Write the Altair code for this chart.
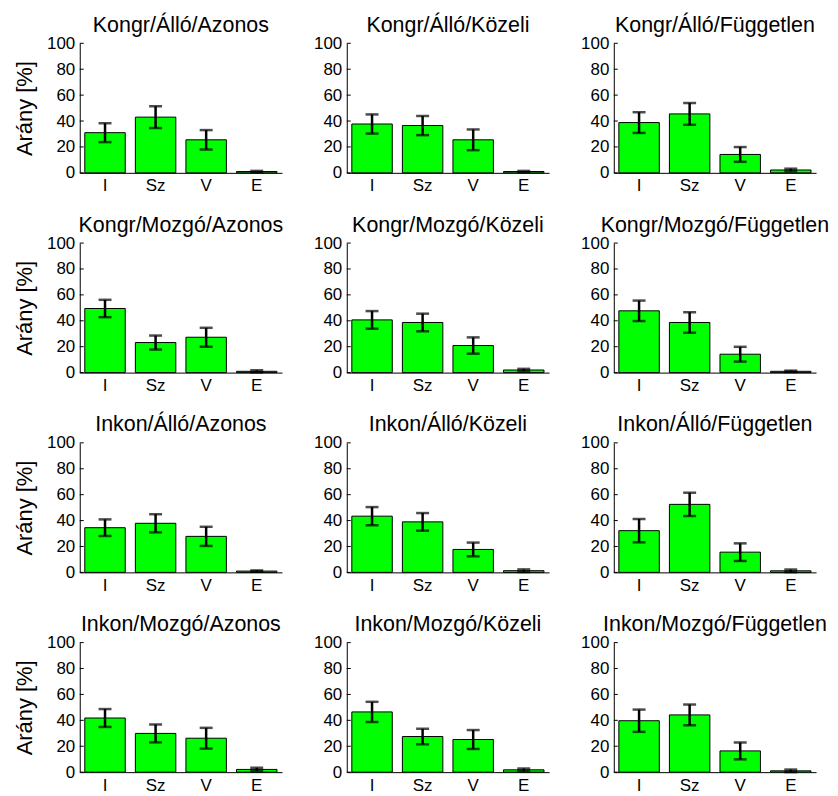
import altair as alt
import pandas as pd

categories = ["I", "Sz", "V", "E"]
titles = [
    "Kongr/Álló/Azonos", "Kongr/Álló/Közeli", "Kongr/Álló/Független",
    "Kongr/Mozgó/Azonos", "Kongr/Mozgó/Közeli", "Kongr/Mozgó/Független",
    "Inkon/Álló/Azonos", "Inkon/Álló/Közeli", "Inkon/Álló/Független",
    "Inkon/Mozgó/Azonos", "Inkon/Mozgó/Közeli", "Inkon/Mozgó/Független",
]

# mean proportions [%] per panel (I, Sz, V, E)
kongr_allo_azonos = [31.0, 43.0, 25.5, 1.0]
kongr_allo_kozeli = [37.7, 36.5, 25.5, 1.0]
kongr_allo_fuggetlen = [38.8, 45.5, 14.2, 2.2]
kongr_mozgo_azonos = [49.5, 23.2, 27.3, 1.0]
kongr_mozgo_kozeli = [40.7, 38.7, 20.9, 2.0]
kongr_mozgo_fuggetlen = [47.7, 38.7, 14.2, 1.0]
inkon_allo_azonos = [34.5, 37.9, 27.8, 1.0]
inkon_allo_kozeli = [43.4, 39.0, 17.7, 1.3]
inkon_allo_fuggetlen = [32.2, 52.5, 15.6, 1.2]
inkon_mozgo_azonos = [41.8, 29.9, 26.2, 2.1]
inkon_mozgo_kozeli = [46.5, 27.5, 25.2, 1.8]
inkon_mozgo_fuggetlen = [39.7, 44.2, 16.4, 1.0]

# error bar half-widths
err_kongr_allo_azonos = [7.3, 8.4, 7.5, 0.5]
err_kongr_allo_kozeli = [7.4, 7.4, 8.0, 0.5]
err_kongr_allo_fuggetlen = [8.0, 8.4, 5.7, 1.0]
err_kongr_mozgo_azonos = [6.7, 5.4, 7.3, 0.8]
err_kongr_mozgo_kozeli = [6.8, 6.8, 6.3, 0.9]
err_kongr_mozgo_fuggetlen = [7.9, 7.9, 5.7, 0.5]
err_inkon_allo_azonos = [6.4, 7.0, 7.4, 0.5]
err_inkon_allo_kozeli = [7.0, 6.8, 5.3, 1.0]
err_inkon_allo_fuggetlen = [9.0, 9.0, 6.8, 1.0]
err_inkon_mozgo_azonos = [6.9, 6.9, 8.0, 1.3]
err_inkon_mozgo_kozeli = [7.8, 6.0, 7.3, 1.0]
err_inkon_mozgo_fuggetlen = [8.6, 8.0, 6.5, 1.0]

y_ticks = [0, 20, 40, 60, 80, 100]

means = [kongr_allo_azonos, kongr_allo_kozeli, kongr_allo_fuggetlen,
         kongr_mozgo_azonos, kongr_mozgo_kozeli, kongr_mozgo_fuggetlen,
         inkon_allo_azonos, inkon_allo_kozeli, inkon_allo_fuggetlen,
         inkon_mozgo_azonos, inkon_mozgo_kozeli, inkon_mozgo_fuggetlen]
errs = [err_kongr_allo_azonos, err_kongr_allo_kozeli, err_kongr_allo_fuggetlen,
        err_kongr_mozgo_azonos, err_kongr_mozgo_kozeli, err_kongr_mozgo_fuggetlen,
        err_inkon_allo_azonos, err_inkon_allo_kozeli, err_inkon_allo_fuggetlen,
        err_inkon_mozgo_azonos, err_inkon_mozgo_kozeli, err_inkon_mozgo_fuggetlen]

FONT = "Liberation Sans"
W, H = 203, 130


def panel(i):
    df = pd.DataFrame({
        "cat": categories,
        "val": means[i],
        "lo": [m - e for m, e in zip(means[i], errs[i])],
        "hi": [m + e for m, e in zip(means[i], errs[i])],
    })
    ytitle = "Arány [%]" if i % 3 == 0 else ""
    xaxis = alt.Axis(title=None, labelAngle=0, tickSize=0,
                     labelPadding=5, labelFontSize=17,
                     labelFont=FONT, labelColor="black",
                     domainColor="black", domainWidth=1, grid=False)
    yaxis = alt.Axis(values=y_ticks, tickSize=0, labelPadding=5,
                     labelFontSize=17, labelFont=FONT, labelColor="black",
                     labelOverlap=False, labelFlush=False,
                     domainColor="black", domainWidth=1, grid=False,
                     titleFontSize=22, titleFont=FONT, titleFontWeight="normal",
                     titleColor="black", titlePadding=10)
    yscale = alt.Scale(domain=[0, 100])
    xscale = alt.Scale(paddingInner=0.2, paddingOuter=0.1)

    def X():
        return alt.X("cat:N", sort=categories, scale=xscale, axis=xaxis)

    def Y(field):
        return alt.Y(field, scale=yscale, axis=yaxis, title=ytitle)

    base = alt.Chart(df)
    bars = base.mark_bar(color="#00ff00", stroke="black", strokeWidth=1).encode(
        x=X(), y=Y("val:Q"))
    stem = base.mark_rule(color="black", strokeWidth=2.5).encode(
        x=X(), y=Y("lo:Q"), y2="hi:Q")
    cap_lo = base.mark_tick(color="black", orient="horizontal", size=13,
                            thickness=2.5).encode(x=X(), y=Y("lo:Q"))
    cap_hi = base.mark_tick(color="black", orient="horizontal", size=13,
                            thickness=2.5).encode(x=X(), y=Y("hi:Q"))
    tick_df = pd.DataFrame({"t": y_ticks})
    yt = alt.Chart(tick_df).mark_rule(color="black", strokeWidth=1).encode(
        y=Y("t:Q"), x=alt.value(0), x2=alt.value(4))
    return alt.layer(bars, stem, cap_lo, cap_hi, yt).properties(
        width=W, height=H,
        title=alt.TitleParams(titles[i], fontSize=21.5, font=FONT,
                              fontWeight="normal", color="black", offset=-2),
    )


chart = alt.concat(*[panel(i) for i in range(12)], columns=3,
                   spacing={"row": 70.5, "column": 65}, bounds="flush").properties(
    padding={"left": 5, "top": 5, "right": 0, "bottom": 0},
).configure(background="white").configure_view(strokeWidth=0, stroke="transparent")

chart.save("out.html", embed_options={"renderer": "svg", "actions": False})
